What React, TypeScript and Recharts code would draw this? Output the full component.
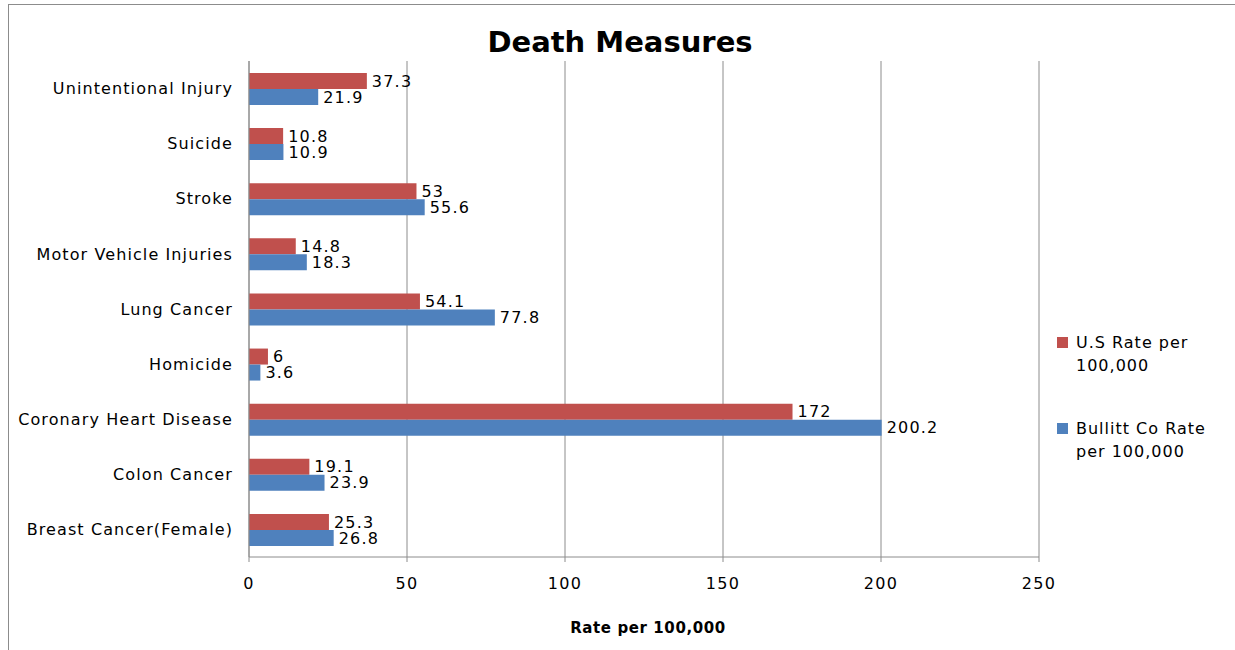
import { BarChart, Bar, XAxis, YAxis, CartesianGrid, LabelList } from 'recharts';

const categories = [
  'Unintentional Injury',
  'Suicide',
  'Stroke',
  'Motor Vehicle Injuries',
  'Lung Cancer',
  'Homicide',
  'Coronary Heart Disease',
  'Colon Cancer',
  'Breast Cancer(Female)',
];
const usRate = [37.3, 10.8, 53, 14.8, 54.1, 6, 172, 19.1, 25.3];
const bullittRate = [21.9, 10.9, 55.6, 18.3, 77.8, 3.6, 200.2, 23.9, 26.8];
const xTicks = [0, 50, 100, 150, 200, 250];

const data = categories.map((name, i) => ({ name, us: usRate[i], bullitt: bullittRate[i] }));

const font = '"DejaVu Sans", Verdana, sans-serif';

function LegendBox() {
  const items = [
    { color: '#C0504D', lines: ['U.S Rate per', '100,000'] },
    { color: '#4F81BD', lines: ['Bullitt Co Rate', 'per 100,000'] },
  ];
  return (
    <div style={{ position: 'absolute', left: 1057, top: 331, width: 175, fontFamily: font, fontSize: 16, letterSpacing: 1, color: '#000' }}>
      {items.map((it, i) => (
        <div key={i} style={{ display: 'flex', alignItems: 'flex-start', marginBottom: i === 0 ? 40 : 0 }}>
          <div style={{ width: 11, height: 11, background: it.color, marginTop: 6, marginRight: 8 }} />
          <div style={{ lineHeight: '23px' }}>
            {it.lines.map((l, j) => <div key={j}>{l}</div>)}
          </div>
        </div>
      ))}
    </div>
  );
}

export default function App() {
  return (
    <div style={{ position: 'absolute', left: 0, top: 0, width: 1235, height: 650, background: '#fff', overflow: 'hidden' }}>
      <div style={{ position: 'absolute', left: 8, top: 4, width: 1300, height: 700, borderTop: '1px solid #8c8c8c', borderLeft: '1px solid #8c8c8c' }} />
      <div style={{ position: 'absolute', left: 0, top: 25, width: 1240, textAlign: 'center', fontFamily: font, fontWeight: 'bold', fontSize: 29 }}>
        Death Measures
      </div>
      <div style={{ position: 'absolute', left: 0, top: 619, width: 1296, textAlign: 'center', fontFamily: font, fontWeight: 'bold', fontSize: 15, letterSpacing: 0.6 }}>
        Rate per 100,000
      </div>
      <div style={{ position: 'absolute', left: 0, top: 0 }}>
        <BarChart
          width={1235}
          height={650}
          data={data}
          layout="vertical"
          margin={{ top: 61, right: 196, bottom: 53, left: 0 }}
          barSize={16}
          barGap={0}
        >
          <CartesianGrid horizontal={false} stroke="#8c8c8c" />
          <XAxis
            type="number"
            domain={[0, 250]}
            ticks={xTicks}
            stroke="#8c8c8c"
            tickSize={5}
            tickMargin={16}
            tick={{ fill: '#000', fontSize: 16, fontFamily: font, letterSpacing: 1.4 }}
            height={40}
          />
          <YAxis
            type="category"
            dataKey="name"
            width={249}
            stroke="#8c8c8c"
            tickSize={0}
            tickMargin={16}
            tick={{ fill: '#000', fontSize: 16, fontFamily: font, letterSpacing: 1.1 }}
          />
          <Bar dataKey="us" name="U.S Rate per 100,000" fill="#C0504D" isAnimationActive={false}>
            <LabelList dataKey="us" position="right" offset={5} fill="#000" fontSize={16} fontFamily={font} letterSpacing={1.2} />
          </Bar>
          <Bar dataKey="bullitt" name="Bullitt Co Rate per 100,000" fill="#4F81BD" isAnimationActive={false}>
            <LabelList dataKey="bullitt" position="right" offset={5} fill="#000" fontSize={16} fontFamily={font} letterSpacing={1.2} />
          </Bar>
        </BarChart>
      </div>
      <LegendBox />
    </div>
  );
}
